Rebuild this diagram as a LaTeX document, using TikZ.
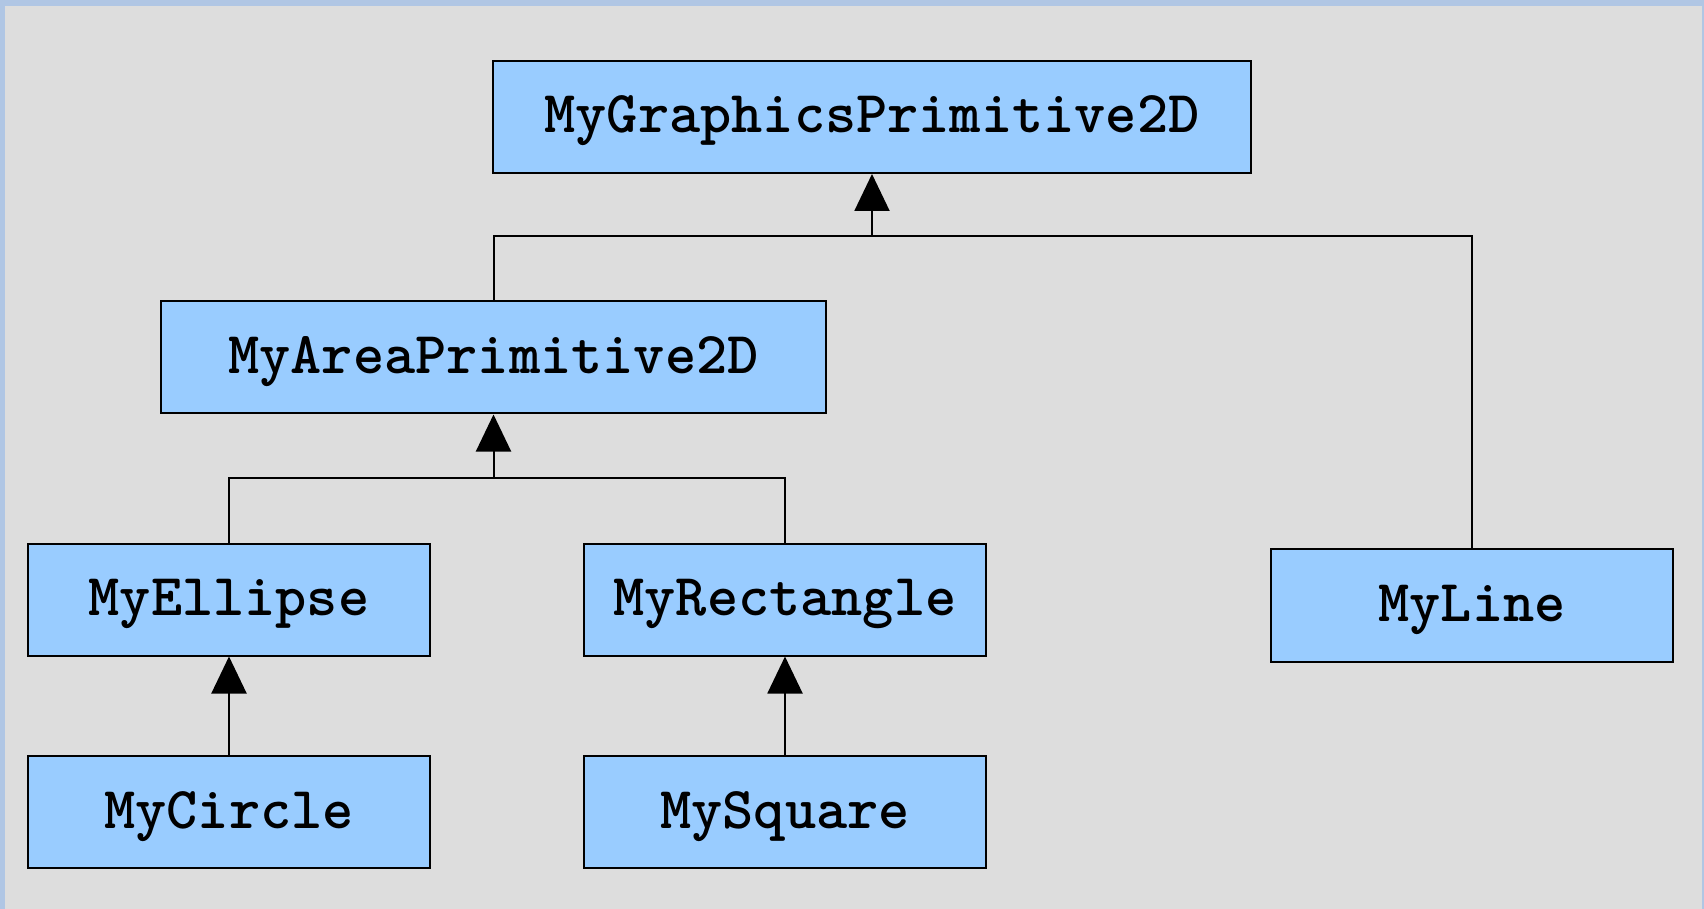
\documentclass[tikz,border=0pt]{standalone}
\usepackage{fontspec}
\usetikzlibrary{arrows.meta}
\definecolor{frameblue}{RGB}{176,198,228}
\definecolor{panelgray}{RGB}{221,221,221}
\definecolor{boxblue}{RGB}{153,204,255}
\tikzset{
  classbox/.style={draw=black, fill=boxblue, line width=1pt, inner sep=0pt,
    minimum height=56pt, text height=16pt, text depth=0pt,
    font=\ttfamily\bfseries\fontsize{29.7}{32}\selectfont},
  inherit/.style={line width=1pt, -{Triangle[width=17.5pt,length=18.5pt]}},
  link/.style={line width=1pt}
}
\begin{document}
\begin{tikzpicture}[x=0.5pt,y=-0.5pt]
  % backdrop and frame
  \fill[frameblue] (0,0) rectangle (1704,909);
  \fill[panelgray] (5,6) rectangle (1702,909);
  \useasboundingbox (0,0) rectangle (1704,909);

  % class boxes
  \node[classbox, minimum width=379pt] (gp)   at (872,117)  {MyGraphicsPrimitive2D};
  \node[classbox, minimum width=332.5pt] (area) at (493.5,357.5) {MyAreaPrimitive2D};
  \node[classbox, minimum width=201pt] (ell)  at (229,599.5) {MyEllipse};
  \node[classbox, minimum width=201pt] (rect) at (785,599.5) {MyRectangle};
  \node[classbox, minimum width=201pt, minimum height=56.5pt] (line) at (1472,605.5) {MyLine};
  \node[classbox, minimum width=201pt] (circ) at (229,812) {MyCircle};
  \node[classbox, minimum width=201pt] (sq)   at (785,812) {MySquare};

  % junctions of the inheritance trees
  \coordinate (j1) at (872,236);
  \coordinate (j2) at (493.5,478);

  % generalisation links
  \draw[link] (area.north) |- (j1);
  \draw[link] (line.north) |- (j1);
  \draw[inherit] (j1) -- (gp.south);

  \draw[link] (ell.north) |- (j2);
  \draw[link] (rect.north) |- (j2);
  \draw[inherit] (j2) -- (area.south);

  \draw[inherit] (circ.north) -- (ell.south);
  \draw[inherit] (sq.north) -- (rect.south);
\end{tikzpicture}
\end{document}
